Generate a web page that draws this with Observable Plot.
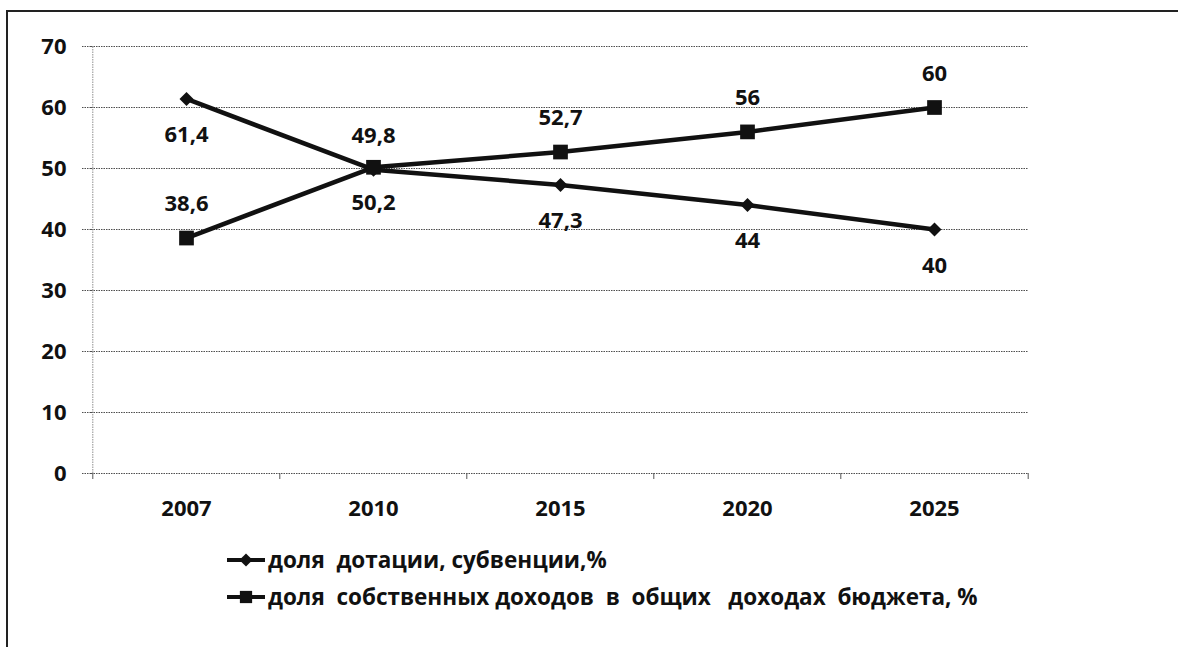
<!DOCTYPE html>
<html>
<head>
<meta charset="utf-8">
<script src="https://cdn.jsdelivr.net/npm/d3@7"></script>
<script src="https://cdn.jsdelivr.net/npm/@observablehq/plot@0.6"></script>
<style>
  html, body { margin: 0; padding: 0; background: #fff; overflow: hidden; width: 1178px; height: 647px; }
  #frame { position: absolute; left: 6px; top: 10px; width: 1300px; height: 800px; border: 2px solid #222; box-sizing: border-box; }
  #chart { position: absolute; left: 0; top: 0; }
  #legend { position: absolute; left: 226px; top: 541px; font-family: "Open Sans", sans-serif; font-weight: 700; font-size: 22.5px; color: #111; }
  .item { display: flex; align-items: center; height: 37px; }
  .item svg { margin-right: 2px; }
</style>
</head>
<body>
<div id="frame"></div>
<div id="chart"></div>
<div id="legend"></div>
<script>
// ---- data ----
const years = ["2007", "2010", "2015", "2020", "2025"];
const dotationShare = [61.4, 49.8, 47.3, 44, 40];
const ownIncomeShare = [38.6, 50.2, 52.7, 56, 60];
const dotationLabels = ["61,4", "49,8", "47,3", "44", "40"];
const ownIncomeLabels = ["38,6", "50,2", "52,7", "56", "60"];
const dotationLabelSide = ["below", "above", "below", "below", "below"];
const ownIncomeLabelSide = ["above", "below", "above", "above", "above"];
const yTicks = [0, 10, 20, 30, 40, 50, 60, 70];
const seriesNames = ["доля  дотации, субвенции,%", "доля  собственных доходов  в  общих   доходах  бюджета, %"];

const rows = [];
years.forEach((y, i) => {
  rows.push({year: y, value: dotationShare[i], label: dotationLabels[i], side: dotationLabelSide[i], series: "dot"});
  rows.push({year: y, value: ownIncomeShare[i], label: ownIncomeLabels[i], side: ownIncomeLabelSide[i], series: "own"});
});
const dotRows = rows.filter(d => d.series === "dot");
const ownRows = rows.filter(d => d.series === "own");

const W = 1178, H = 540, mL = 91, mR = 150, mT = 46, mB = 67;
const step = (W - mL - mR) / years.length;
const font = "'Open Sans', sans-serif";
const FS = 22;
const gridStyle = {stroke: "#222", strokeOpacity: 0.8, strokeDasharray: "1.5,1", strokeWidth: 1};

const chart = Plot.plot({
  width: W, height: H,
  marginLeft: mL, marginRight: mR, marginTop: mT, marginBottom: mB,
  style: {fontFamily: font, fontSize: FS + "px", fontWeight: 700, color: "#111", background: "transparent"},
  x: {type: "point", domain: years, padding: 0.5, label: null},
  y: {domain: [0, 70], ticks: yTicks, label: null},
  marks: [
    Plot.gridY(yTicks, gridStyle),
    Plot.axisY(yTicks, {tickSize: 9, tickPadding: 16, ...gridStyle, fill: "#111", fontWeight: 700, fontSize: FS, tickFormat: d => String(d)}),
    Plot.ruleX([years[0]], {y1: 0, y2: 70, dx: -step / 2, ...gridStyle, strokeOpacity: 0.5}),
    Plot.ruleX(years, {y1: 0, y2: 0, insetBottom: -6, dx: -step / 2, stroke: "#555"}),
    Plot.ruleX([years[years.length - 1]], {y1: 0, y2: 0, insetBottom: -6, dx: step / 2, stroke: "#555"}),
    Plot.axisX(years, {tickSize: 0, tickPadding: 27, fill: "#111", fontWeight: 700, fontSize: FS}),
    Plot.line(dotRows, {x: "year", y: "value", stroke: "#111", strokeWidth: 4.5}),
    Plot.line(ownRows, {x: "year", y: "value", stroke: "#111", strokeWidth: 4.5}),
    Plot.dot(dotRows, {x: "year", y: "value", symbol: "diamond2", r: 6.3, fill: "#111", stroke: null}),
    Plot.dot(ownRows, {x: "year", y: "value", symbol: "square", r: 8.3, fill: "#111"}),
    Plot.text(rows.filter(d => d.side === "above"), {x: "year", y: "value", text: "label", dy: -34, fill: "#111", fontSize: FS, fontWeight: 700}),
    Plot.text(rows.filter(d => d.side === "below"), {x: "year", y: "value", text: "label", dy: 36, fill: "#111", fontSize: FS, fontWeight: 700})
  ]
});
document.getElementById("chart").appendChild(chart);

// ---- legend ----
const legend = document.getElementById("legend");
const symbols = [d3.symbolDiamond2, d3.symbolSquare];
const sizes = [110, 150];
seriesNames.forEach((name, i) => {
  const item = document.createElement("div");
  item.className = "item";
  const svg = d3.create("svg").attr("width", 40).attr("height", 20);
  svg.append("line").attr("x1", 1).attr("x2", 39).attr("y1", 10).attr("y2", 10).attr("stroke", "#111").attr("stroke-width", 4);
  svg.append("path").attr("d", d3.symbol(symbols[i], sizes[i])()).attr("transform", "translate(20,10)").attr("fill", "#111");
  item.appendChild(svg.node());
  const span = document.createElement("span");
  span.style.whiteSpace = "pre";
  span.textContent = name;
  item.appendChild(span);
  legend.appendChild(item);
});
</script>
</body>
</html>
